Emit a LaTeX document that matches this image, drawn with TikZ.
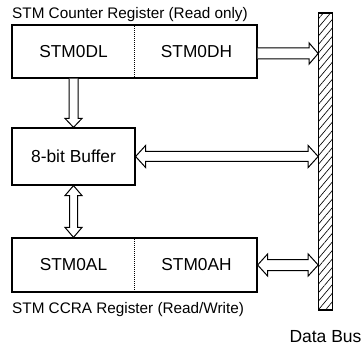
\documentclass[tikz,border=0pt]{standalone}
\usepackage{fontspec}
\setmainfont{Liberation Sans}
\usetikzlibrary{calc,patterns.meta}
\tikzset{
  regbox/.style={draw, line width=1.2pt, minimum width=245pt, minimum height=53pt, inner sep=0pt},
  bufbox/.style={draw, line width=1.2pt, minimum width=123pt, minimum height=57pt, inner sep=0pt, font=\fontsize{17.4}{19}\selectfont},
  reglabel/.style={inner sep=0pt, font=\fontsize{17.3}{19}\selectfont},
  captext/.style={inner sep=0pt, anchor=base west, font=\fontsize{15.3}{17}\selectfont},
  divider/.style={densely dotted, line width=1pt},
  blockarrow/.style={draw, line width=1pt, line join=miter, fill=white},
  busbar/.style={draw, line width=1.2pt, minimum width=14pt, minimum height=297pt, inner sep=0pt,
    pattern={Lines[angle=50,distance=5.5pt,line width=0.65pt]}},
}
\newcommand\singlearrow[4]{%
  \path (#1) coordinate (sa) (#2) coordinate (ea);
  \path ($(ea)!9pt!(sa)$) coordinate (hb);
  \draw[blockarrow] ($(sa)!#3!90:(ea)$) -- ($(hb)!#3!90:(ea)$) -- ($(hb)!#4!90:(ea)$) -- (ea)
    -- ($(hb)!#4!-90:(ea)$) -- ($(hb)!#3!-90:(ea)$) -- ($(sa)!#3!-90:(ea)$);
}
\newcommand\doublearrow[4]{%
  \path (#1) coordinate (sa) (#2) coordinate (ea);
  \path ($(sa)!10pt!(ea)$) coordinate (ha) ($(ea)!10pt!(sa)$) coordinate (hb);
  \draw[blockarrow] (sa) -- ($(ha)!#4!90:(ea)$) -- ($(ha)!#3!90:(ea)$) -- ($(hb)!#3!90:(ea)$)
    -- ($(hb)!#4!90:(ea)$) -- (ea) -- ($(hb)!#4!-90:(ea)$) -- ($(hb)!#3!-90:(ea)$)
    -- ($(ha)!#3!-90:(ea)$) -- ($(ha)!#4!-90:(ea)$) -- cycle;
}
\begin{document}
\begin{tikzpicture}[x=1pt,y=-1pt]
\useasboundingbox (0,0) rectangle (363,347);
% top register
\node[regbox] (ctr) at (134.5,51.5) {};
\draw[divider] (ctr.north) -- (ctr.south);
\node[reglabel] (dl) at (73.5,51.5) {STM0DL};
\node[reglabel] (dh) at (196.5,51.5) {STM0DH};
\node[captext] (t1) at (12,18.5) {STM Counter Register (Read only)};
% buffer
\node[bufbox] (buf) at (73.5,156.5) {8-bit Buffer};
% bottom register
\node[regbox, minimum height=54pt] (ccra) at (134.5,265) {};
\draw[divider] (ccra.north) -- (ccra.south);
\node[reglabel] (al) at (73.5,265) {STM0AL};
\node[reglabel] (ah) at (196.5,265) {STM0AH};
\node[captext] (t2) at (12,313) {STM CCRA Register (Read/Write)};
% data bus
\node[busbar] (bus) at (325.5,161.5) {};
\node[inner sep=0pt, anchor=base, font=\fontsize{17.5}{19}\selectfont] (dbl) at (325.5,342) {Data Bus};
% arrows
\singlearrow{$(ctr.east)+(0,2)$}{$(ctr.east -| bus.west)+(0,2)$}{5.5pt}{10.5pt}
\singlearrow{buf.north |- ctr.south}{buf.north}{4.5pt}{8.5pt}
\doublearrow{buf.east}{buf.east -| bus.west}{5pt}{11pt}
\doublearrow{buf.south}{buf.south |- ccra.north}{4pt}{8.5pt}
\doublearrow{ccra.east}{ccra.east -| bus.west}{5.5pt}{11pt}
\end{tikzpicture}
\end{document}
